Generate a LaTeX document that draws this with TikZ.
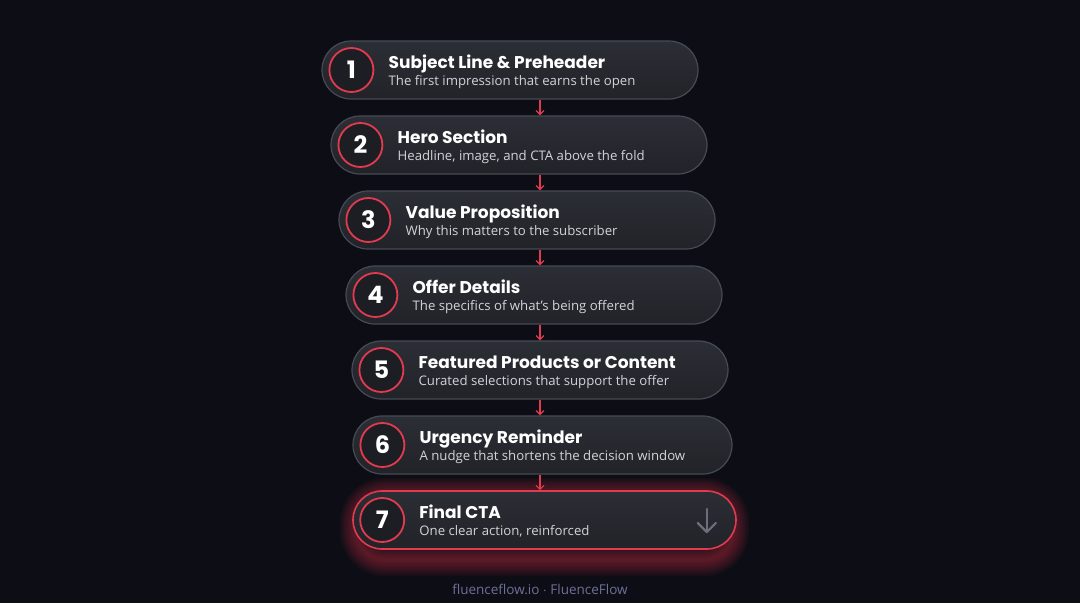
\documentclass[tikz,border=0pt]{standalone}
\usepackage{fontspec}
\setmainfont{Open Sans}
\newfontfamily\headfont{Poppins}
\usetikzlibrary{arrows.meta,positioning,backgrounds}

\definecolor{bgdark}{HTML}{0D0E15}
\definecolor{pilltop}{HTML}{2C2E35}
\definecolor{pillbot}{HTML}{212329}
\definecolor{pillline}{HTML}{474A54}
\definecolor{dotfill}{HTML}{1D1E24}
\definecolor{accent}{HTML}{E23A4E}
\definecolor{subgray}{HTML}{D2D3D9}
\definecolor{icongray}{HTML}{6C6F7B}
\definecolor{footgray}{HTML}{6F6F99}

\begin{document}
\begin{tikzpicture}[x=1pt,y=-1pt,
    pill/.style={draw=pillline, line width=1.2pt, rounded corners=29pt,
      top color=pilltop, bottom color=pillbot, minimum height=58pt, inner sep=0pt},
    finalpill/.style={pill, draw=accent, line width=1.6pt},
    numdot/.style={circle, draw=accent, line width=1.8pt, fill=dotfill,
      minimum size=44pt, inner sep=0pt, text=white,
      font=\headfont\bfseries\fontsize{24}{24}\selectfont},
    headtext/.style={anchor=base west, inner sep=0pt, text=white,
      font=\headfont\bfseries\fontsize{17}{17}\selectfont},
    subtext/.style={anchor=base west, inner sep=0pt, text=subgray,
      font=\fontsize{13.2}{13.2}\selectfont},
    flow/.style={draw=accent, line width=1.2pt, -{Straight Barb[length=4pt,width=8pt]}},
    icon/.style={draw=icongray, line width=2.2pt, line cap=round, line join=round},
    foot/.style={anchor=base, inner sep=0pt, text=footgray, font=\fontsize{13.5}{13.5}\selectfont}]

  % canvas
  \useasboundingbox (0,0) rectangle (1080,603);

  % steps
  \foreach \n/\l/\r/\head/\sub in {
      1/322/698/{Subject Line \& Preheader}/{The first impression that earns the open},
      2/331/707/{Hero Section}/{Headline, image, and CTA above the fold},
      3/339/715/{Value Proposition}/{Why this matters to the subscriber},
      4/346/722/{Offer Details}/{The specifics of what's being offered},
      5/352/728/{Featured Products or Content}/{Curated selections that support the offer},
      6/353/732/{Urgency Reminder}/{A nudge that shortens the decision window},
      7/353/736/{Final CTA}/{One clear action, reinforced}}{
    \pgfmathsetmacro{\cx}{(\l+\r)/2}
    \pgfmathsetmacro{\cy}{70+75*(\n-1)}
    \pgfmathsetmacro{\pw}{\r-\l}
    \ifnum\n=7
      \node[finalpill, minimum width=\pw pt] (p\n) at (\cx,\cy) {};
    \else
      \node[pill, minimum width=\pw pt] (p\n) at (\cx,\cy) {};
    \fi
    \node[numdot] (c\n) at ([xshift=30pt]p\n.west) {\n};
    \node[headtext] (t\n) at ([xshift=67pt,yshift=2pt]p\n.west) {\head};
    \node[subtext] (s\n) at ([xshift=67pt,yshift=-15pt]p\n.west) {\sub};
  }

  % connectors on one axis
  \coordinate (axis) at (540,0);
  \foreach \a/\b in {1/2,2/3,3/4,4/5,5/6,6/7}
    \draw[flow] (p\a.south -| axis) -- (p\b.north -| axis);

  % down cue in the last step
  \coordinate (cue) at ([xshift=-30pt]p7.east);
  \draw[icon] ([yshift=11pt]cue) -- ([yshift=-12pt]cue);
  \draw[icon] ([xshift=-9pt,yshift=-3pt]cue) -- ([yshift=-12pt]cue) -- ([xshift=9pt,yshift=-3pt]cue);

  % background and glow
  \begin{scope}[on background layer]
    \fill[bgdark] (0,0) rectangle (1080,603);
    \foreach \g in {3,6,...,33}
      \draw[accent, line width=\g pt, opacity=0.045, rounded corners=29pt]
        ([xshift=4pt,yshift=-10pt]p7.south west) rectangle ([xshift=-4pt,yshift=-4pt]p7.north east);
  \end{scope}

  \node[foot] (credit) at (540,594) {fluenceflow.io $\cdot$ FluenceFlow};
\end{tikzpicture}
\end{document}
